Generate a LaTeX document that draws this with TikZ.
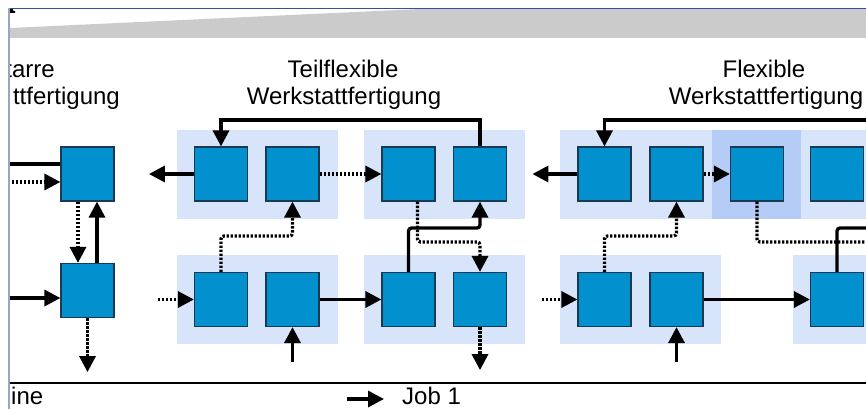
\documentclass[tikz,border=0pt]{standalone}
\usepackage{fontspec}
\setmainfont{Liberation Sans}
\usetikzlibrary{arrows.meta}
\definecolor{boxfill}{HTML}{0290CF}
\definecolor{boxline}{HTML}{1A3A52}
\definecolor{bglight}{HTML}{D7E4FA}
\definecolor{bgdark}{HTML}{B5CDF6}
\definecolor{band}{HTML}{CBCBCB}
\definecolor{topline}{HTML}{2F5597}
\definecolor{leftline}{HTML}{97A6C4}
\begin{document}
\begin{tikzpicture}[x=1pt,y=-1pt,
  mbox/.style={draw=boxline, fill=boxfill, line width=1.2pt, minimum width=53pt, minimum height=54pt, inner sep=0pt, rectangle},
  bgr/.style={fill=bglight},
  bgd/.style={fill=bgdark},
  job/.style={line width=3.3pt, -{Triangle[length=16pt,width=16pt]}},
  jobline/.style={line width=3.3pt},
  dotjob/.style={line width=3.3pt, dash pattern=on 2.4pt off 1.6pt, -{Triangle[length=16pt,width=16pt]}},
  dotline/.style={line width=3.3pt, dash pattern=on 2.4pt off 1.6pt},
  ttl/.style={font=\fontsize{24}{28}\selectfont, inner sep=0pt, anchor=base},
  elbow/.style={rounded corners=3pt},
]
\useasboundingbox (0,0) rectangle (866,409);
\begin{scope}
\clip (10,9) rectangle (866,409);
% gray band
\fill[band] (10,38) -- (10,28) -- (420,9) -- (866,9) -- (866,38) -- cycle;
\fill[black] (10,9) -- (13,9) -- (13,11) -- (15,11) -- (15,13) -- (10,13) -- cycle;

% titles
\node[ttl, anchor=base east] (t0a) at (55,78) {tarre};
\node[ttl, anchor=base east] (t0b) at (120,105) {ttfertigung};
\node[ttl] (t1a) at (343,78) {Teilflexible};
\node[ttl] (t1b) at (344,105) {Werkstattfertigung};
\node[ttl] (t2a) at (764,78) {Flexible};
\node[ttl] (t2b) at (766,105) {Werkstattfertigung};

% backgrounds
\fill[bgr] (177,130) rectangle (338,219);
\fill[bgr] (364,130) rectangle (525,219);
\fill[bgr] (177,255) rectangle (338,344);
\fill[bgr] (364,255) rectangle (525,344);
\fill[bgr] (560,130) rectangle (870,219);
\fill[bgd] (712,130) rectangle (801,219);
\fill[bgr] (560,255) rectangle (721,344);
\fill[bgr] (793,255) rectangle (870,344);

% boxes
\node[mbox] (S1) at (87.5,174) {};
\node[mbox] (S2) at (87.5,290.5) {};
\node[mbox] (A) at (221,174) {};
\node[mbox] (B) at (292.5,174) {};
\node[mbox] (C) at (408.5,174) {};
\node[mbox] (D) at (480,174) {};
\node[mbox] (A2) at (221,299.5) {};
\node[mbox] (B2) at (292.5,299.5) {};
\node[mbox] (C2) at (408.5,299.5) {};
\node[mbox] (D2) at (480,299.5) {};
\node[mbox] (E) at (604.5,174) {};
\node[mbox] (F) at (676.5,174) {};
\node[mbox] (G) at (757,174) {};
\node[mbox] (H) at (837,174) {};
\node[mbox] (E2) at (604.5,299.5) {};
\node[mbox] (F2) at (676.5,299.5) {};
\node[mbox] (I2) at (837,299.5) {};

% coordinates
\coordinate (l1) at (8,164);
\coordinate (l2) at (8,182);
\coordinate (l3) at (8,298);
\coordinate (tfb) at (221,120);
\coordinate (t1) at (292.5,236);
\coordinate (t2) at (480,242);
\coordinate (t3) at (480,228);
\coordinate (tin) at (158,299.5);
\coordinate (bin) at (292.5,362);
\coordinate (ffb) at (872,120);
\coordinate (f1) at (676.5,236);
\coordinate (f2) at (872,242);
\coordinate (f3) at (872,228);
\coordinate (fin) at (542,299.5);
\coordinate (fbin) at (676.5,362);
\coordinate (sepl) at (8,383);
\coordinate (sepr) at (870,383);
\coordinate (lg1) at (347,399);
\coordinate (lg2) at (384,399);

% starre connectors
\draw[jobline] (l1) -- (l1 -| S1.west);
\draw[dotjob] (l2) -- (l2 -| S1.west);
\draw[dotjob] ([xshift=-9.5pt]S1.south) -- ([xshift=-9.5pt]S2.north);
\draw[job] ([xshift=9.5pt]S2.north) -- ([xshift=9.5pt]S1.south);
\draw[job] (l3) -- (l3 -| S2.west);
\draw[dotjob] (S2.south) -- ++(0,54);

% teilflexible connectors
\draw[job] (A.west) -- ++(-45,0);
\draw[job] (D.north) |- (tfb) -- (A.north);
\draw[dotjob] (B.east) -- (C.west);
\draw[dotjob, elbow] (A2.north) |- (t1) -- (B.south);
\draw[dotjob, elbow] ([xshift=9pt]C.south) |- (t2) -- (D2.north);
\draw[job, elbow] (C2.north) |- (t3) -- (D.south);
\draw[dotjob] (tin) -- (A2.west);
\draw[job] (B2.east) -- (C2.west);
\draw[job] (bin) -- (B2.south);
\draw[dotjob] (D2.south) -- ++(0,43);

% flexible connectors
\draw[job] (E.west) -- ++(-45,0);
\draw[job] (ffb) -| (E.north);
\draw[dotjob] (F.east) -- (G.west);
\draw[dotjob, elbow] (E2.north) |- (f1) -- (F.south);
\draw[dotline, elbow] (G.south) |- (f2);
\draw[jobline, elbow] (I2.north) |- (f3);
\draw[dotjob] (fin) -- (E2.west);
\draw[job] (F2.east) -- (I2.west);
\draw[job] (fbin) -- (F2.south);

% separator and legend
\draw[line width=2.2pt] (sepl) -- (sepr);
\node[ttl, anchor=base west] (lg0) at (11,404) {ine};
\draw[job] (lg1) -- (lg2);
\node[ttl, anchor=base west] (lgt) at (402,404) {Job 1};
\end{scope}
% frame lines
\draw[topline, line width=1pt] (9,8.5) -- (866,8.5);
\draw[leftline, line width=2.4pt] (9,8) -- (9,409);
\end{tikzpicture}
\end{document}
